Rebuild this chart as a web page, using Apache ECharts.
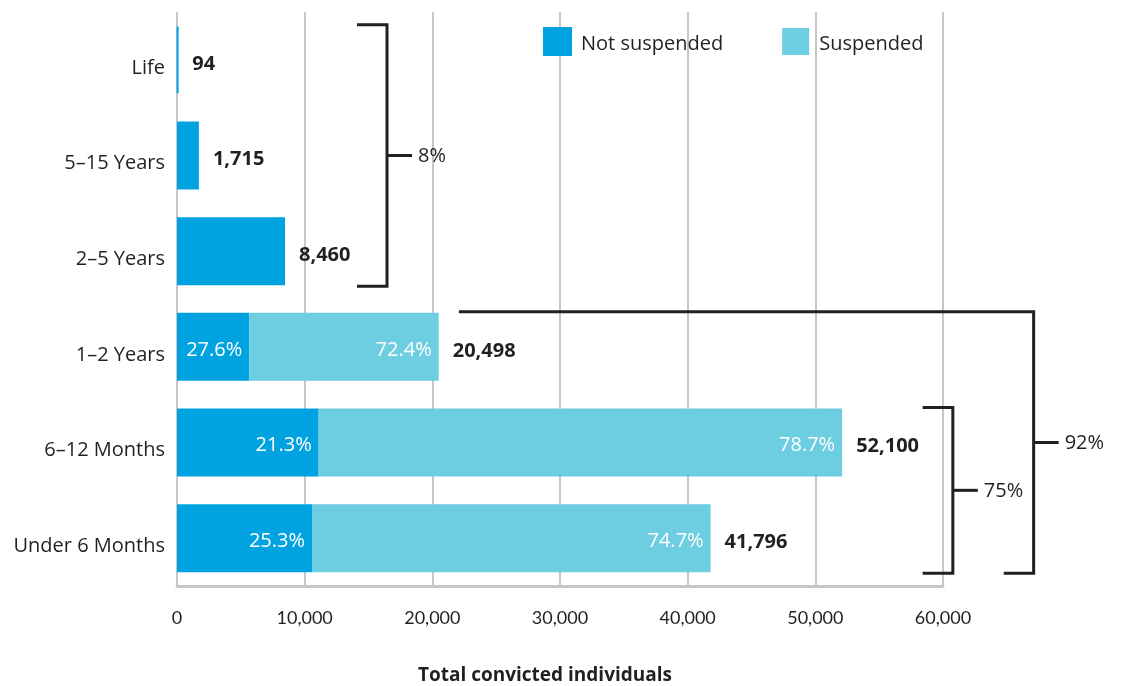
<!DOCTYPE html>
<html>
<head>
<meta charset="utf-8">
<script src="https://cdn.jsdelivr.net/npm/echarts@6/dist/echarts.min.js"></script>
<style>
html,body{margin:0;padding:0;background:#fff;}
#chart{width:1125px;height:686px;}
</style>
</head>
<body>
<div id="chart"></div>
<script>
// ---- data ----
const categories = ['Under 6 Months', '6–12 Months', '1–2 Years', '2–5 Years', '5–15 Years', 'Life'];
const notSuspended = [10574, 11097, 5657, 8460, 1715, 94];
const suspended = [31222, 41003, 14841, 0, 0, 0];
const totals = [41796, 52100, 20498, 8460, 1715, 94];
const notSuspendedPct = ['25.3%', '21.3%', '27.6%', '', '', ''];
const suspendedPct = ['74.7%', '78.7%', '72.4%', '', '', ''];
const xTicks = [0, 10000, 20000, 30000, 40000, 50000, 60000];
// brackets: categories spanned and label
const bracketLabels = ['8%', '75%', '92%'];
const bracketFrom = ['2–5 Years', 'Under 6 Months', 'Under 6 Months'];
const bracketTo = ['Life', '6–12 Months', '1–2 Years'];
const bracketX = [16450, 60770, 67100];
const bracketTopLeftX = [14100, 58400, 22080];
const bracketBottomLeftX = [14100, 58400, 64760];

const FONT = '"Open Sans", Lato, sans-serif';
const TICKFONT = 'Lato, "Open Sans", sans-serif';
const DARK = '#231F20';
const BAR_FRAC = 0.71;

const chart = echarts.init(document.getElementById('chart'), null, {renderer: 'canvas'});
const fmt = v => v.toLocaleString('en-US');

const option = {
  animation: false,
  backgroundColor: '#fff',
  grid: {left: 177, right: 182, top: 12, bottom: 100, containLabel: false, outerBoundsMode: 'none'},
  legend: {
    data: ['Not suspended', 'Suspended'],
    left: 543, top: 27, padding: 0,
    icon: 'rect', itemWidth: 27, itemHeight: 27, itemGap: 59,
    formatter: n => '{t|' + n + '}',
    textStyle: {
      fontFamily: FONT, fontSize: 20, color: DARK,
      rich: {t: {fontFamily: FONT, fontSize: 20, color: DARK, padding: [6, 0, 0, 5]}}
    }
  },
  xAxis: {
    type: 'value', min: xTicks[0], max: xTicks[xTicks.length - 1], interval: 10000,
    axisLine: {show: true, lineStyle: {color: '#C6C6CB', width: 3}},
    axisTick: {show: false},
    splitLine: {show: true, lineStyle: {color: '#C6C6CB', width: 2}},
    axisLabel: {fontFamily: TICKFONT, fontSize: 18, color: DARK, margin: 23, formatter: v => fmt(v)},
    name: 'Total convicted individuals',
    nameLocation: 'middle', nameGap: 80,
    nameTextStyle: {fontFamily: FONT, fontSize: 19, fontWeight: 'bold', color: DARK, padding: [0, 30, 0, 0]}
  },
  yAxis: {
    type: 'category', data: categories,
    axisLine: {show: false}, axisTick: {show: false},
    axisLabel: {
      fontFamily: FONT, fontSize: 20, color: DARK, margin: 12,
      formatter: v => '{c|' + v + '}',
      rich: {c: {fontFamily: FONT, fontSize: 20, color: DARK, padding: [16, 0, 0, 0]}}
    }
  },
  series: [
    {
      name: 'Not suspended', type: 'bar', stack: 'total', barWidth: (BAR_FRAC * 100) + '%',
      itemStyle: {color: '#00A3E0', borderColor: '#00A3E0', borderWidth: 2},
      label: {
        show: true, position: 'insideRight', distance: 7, offset: [0, 3],
        fontFamily: FONT, fontSize: 20, color: '#fff',
        formatter: p => notSuspendedPct[p.dataIndex]
      },
      data: notSuspended
    },
    {
      name: 'Suspended', type: 'bar', stack: 'total',
      itemStyle: {color: '#6DCDE1'},
      label: {
        show: true, position: 'insideRight', distance: 7, offset: [0, 3],
        fontFamily: FONT, fontSize: 20, color: '#fff',
        formatter: p => suspendedPct[p.dataIndex]
      },
      data: suspended
    },
    {
      name: 'Total', type: 'bar', stack: 'total',
      itemStyle: {color: 'rgba(0,0,0,0)'},
      label: {
        show: true, position: 'right', distance: 14, offset: [0, 4],
        fontFamily: FONT, fontSize: 20, fontWeight: 'bold', color: DARK,
        formatter: p => fmt(totals[p.dataIndex])
      },
      data: totals.map(() => 0)
    }
  ]
};
chart.setOption(option);

function drawBrackets() {
  const toPx = (x, c) => chart.convertToPixel({gridIndex: 0}, [x, c]);
  const band = Math.abs(toPx(0, categories[0])[1] - toPx(0, categories[1])[1]);
  const half = band * BAR_FRAC / 2;
  const elements = [];
  const ls = {stroke: DARK, lineWidth: 3};
  for (let i = 0; i < bracketLabels.length; i++) {
    const xv = toPx(bracketX[i], categories[0])[0];
    const xTop = toPx(bracketTopLeftX[i], categories[0])[0];
    const xBot = toPx(bracketBottomLeftX[i], categories[0])[0];
    const yTop = toPx(0, bracketTo[i])[1] - half - 1;
    const yBot = toPx(0, bracketFrom[i])[1] + half + 1;
    const yMid = (yTop + yBot) / 2;
    elements.push({type: 'polyline', silent: true, z: 100,
      shape: {points: [[xTop, yTop], [xv, yTop], [xv, yBot], [xBot, yBot]]}, style: Object.assign({fill: null}, ls)});
    elements.push({type: 'line', silent: true, z: 100,
      shape: {x1: xv, y1: yMid, x2: xv + 25, y2: yMid}, style: ls});
    elements.push({type: 'text', silent: true, z: 100, x: xv + 31, y: yMid + 1,
      style: {text: bracketLabels[i], fontFamily: FONT, fontSize: 20, fill: DARK, verticalAlign: 'middle', align: 'left'}});
  }
  chart.setOption({graphic: elements});
}
drawBrackets();
</script>
</body>
</html>
